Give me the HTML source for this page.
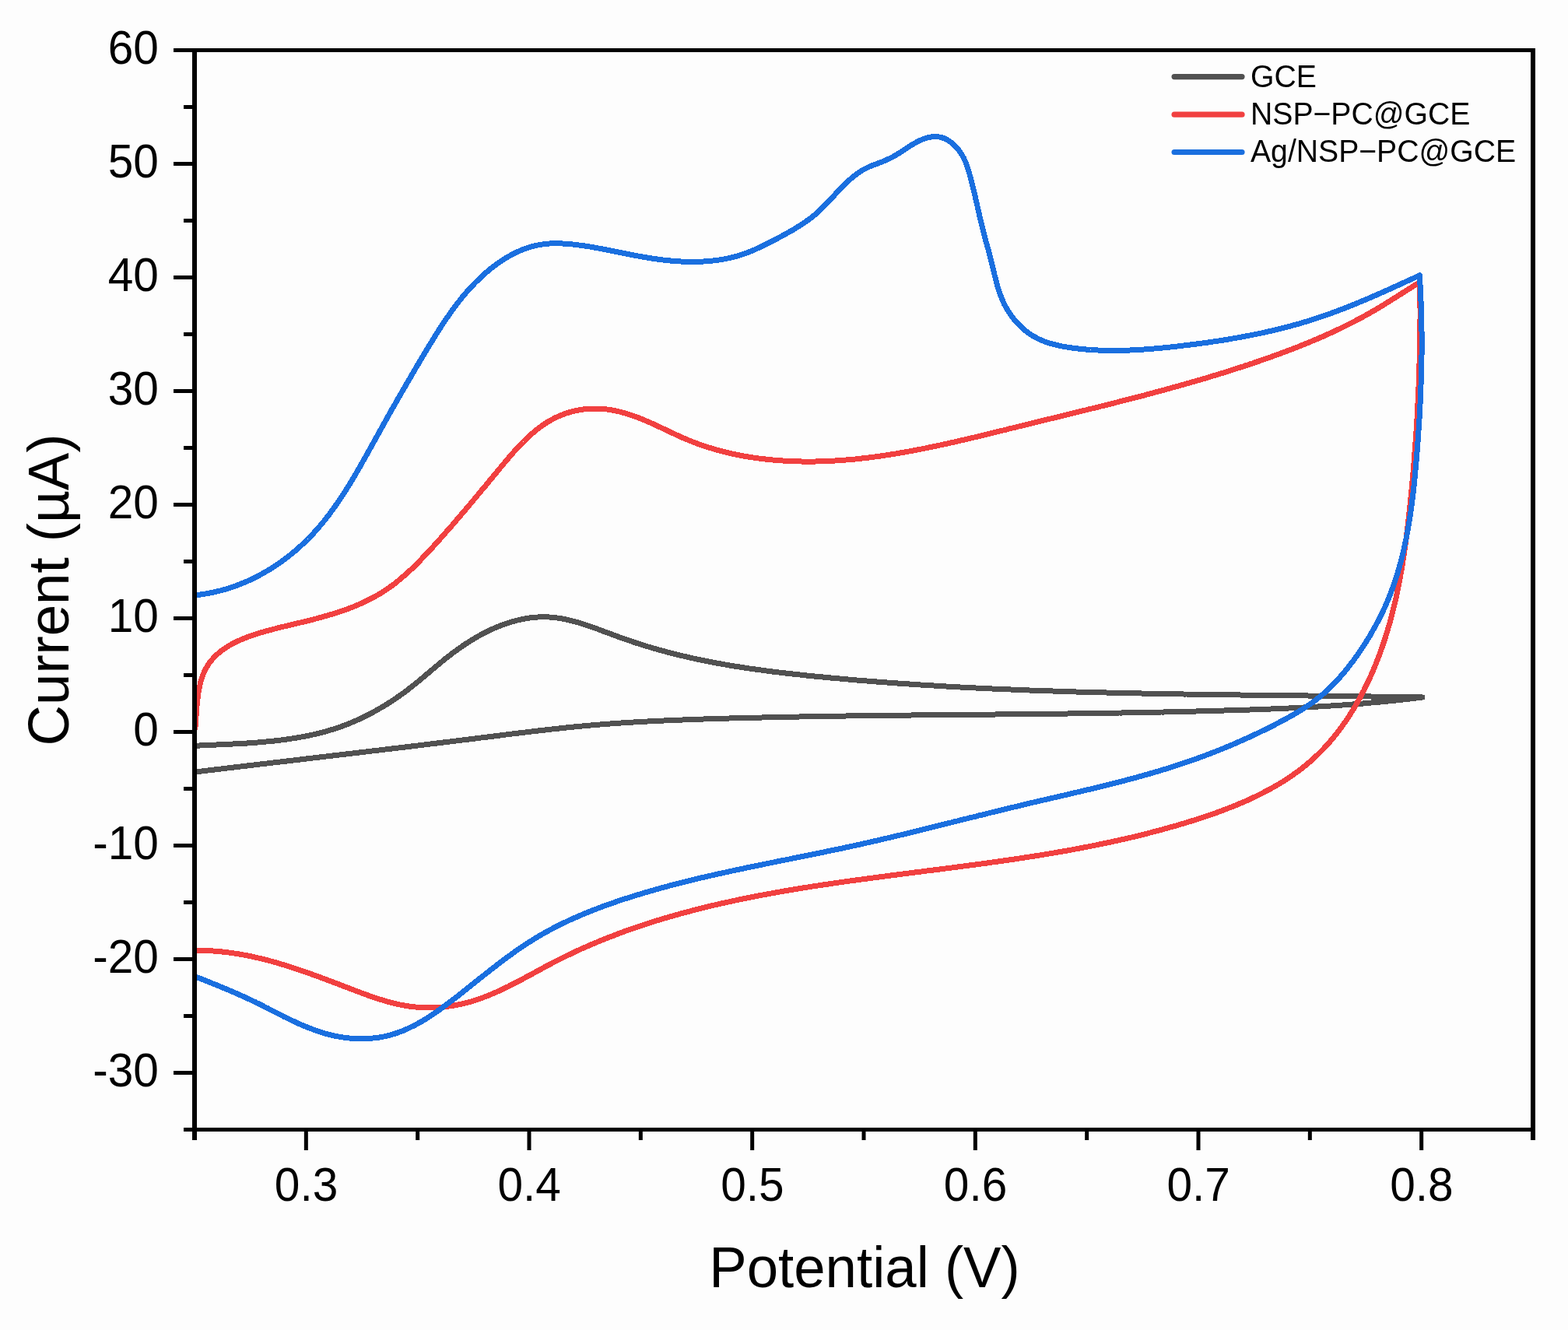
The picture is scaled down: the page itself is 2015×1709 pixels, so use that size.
<!DOCTYPE html>
<html lang="en"><head><meta charset="utf-8"><title>CV curves</title>
<style>html,body{margin:0;padding:0;background:#fdfdfd;}body{width:2015px;height:1709px;overflow:hidden;}svg{display:block;}text{font-family:"Liberation Sans",sans-serif;}</style>
</head><body>
<svg width="2015" height="1709" viewBox="0 0 2015 1709">
<rect width="2015" height="1709" fill="#fdfdfd"/>
<defs><clipPath id="plot"><rect x="250.0" y="64.5" width="1720.0" height="1387.0"/></clipPath></defs>
<g clip-path="url(#plot)">
<path d="M250.7 958.3L253.6 958.2L256.5 958.0L259.4 957.9L262.3 957.7L265.2 957.6L268.2 957.5L271.1 957.3L274.1 957.2L277.0 957.1L280.0 956.9L283.0 956.8L285.9 956.7L288.9 956.5L291.9 956.4L294.9 956.2L297.9 956.1L301.0 955.9L304.0 955.8L307.0 955.6L310.0 955.4L313.0 955.2L316.1 955.1L319.1 954.9L322.1 954.6L325.2 954.4L328.2 954.2L331.3 954.0L334.3 953.7L337.3 953.5L340.4 953.2L343.4 952.9L346.5 952.6L349.5 952.3L352.5 952.0L355.6 951.6L358.6 951.3L361.6 950.9L364.7 950.5L367.7 950.1L370.7 949.7L373.7 949.2L376.7 948.8L379.7 948.3L382.7 947.8L385.7 947.3L388.7 946.7L391.7 946.2L394.6 945.6L397.6 945.0L400.5 944.3L403.5 943.7L406.4 943.0L409.4 942.3L412.3 941.5L415.2 940.8L418.1 940.0L421.0 939.2L423.8 938.3L426.7 937.5L429.5 936.6L432.4 935.7L435.2 934.7L438.0 933.7L440.8 932.7L443.6 931.6L446.4 930.6L449.1 929.5L451.9 928.3L454.6 927.2L457.4 926.0L460.1 924.8L462.8 923.5L465.5 922.3L468.1 921.0L470.8 919.7L473.4 918.3L476.1 917.0L478.7 915.6L481.3 914.1L483.9 912.7L486.5 911.2L489.1 909.7L491.7 908.2L494.2 906.7L496.8 905.1L499.3 903.5L501.8 901.9L504.3 900.3L506.8 898.6L509.3 896.9L511.7 895.2L514.2 893.5L516.6 891.7L519.1 890.0L521.5 888.2L523.9 886.4L526.3 884.5L528.7 882.7L531.0 880.8L533.4 878.9L535.8 877.0L538.1 875.1L540.4 873.2L542.8 871.2L545.1 869.3L547.4 867.3L549.7 865.3L552.1 863.4L554.4 861.4L556.7 859.4L559.0 857.5L561.4 855.5L563.7 853.6L566.1 851.6L568.4 849.7L570.8 847.7L573.2 845.8L575.6 843.9L578.0 842.1L580.4 840.2L582.8 838.4L585.3 836.6L587.7 834.8L590.2 833.0L592.7 831.3L595.2 829.5L597.7 827.9L600.3 826.2L602.8 824.6L605.4 823.0L608.0 821.4L610.6 819.8L613.2 818.3L615.8 816.9L618.4 815.4L621.1 814.0L623.7 812.6L626.4 811.3L629.0 810.0L631.7 808.8L634.4 807.5L637.1 806.4L639.8 805.2L642.6 804.2L645.3 803.1L648.0 802.1L650.8 801.2L653.5 800.2L656.3 799.4L659.1 798.6L661.9 797.8L664.6 797.1L667.4 796.4L670.2 795.8L673.0 795.3L675.9 794.8L678.7 794.3L681.5 793.9L684.3 793.6L687.2 793.3L690.0 793.1L692.9 792.9L695.7 792.9L698.6 792.8L701.4 792.8L704.3 792.9L707.1 793.1L710.0 793.3L712.9 793.6L715.7 794.0L718.6 794.4L721.5 794.8L724.4 795.4L727.2 795.9L730.1 796.6L733.0 797.3L735.9 798.0L738.8 798.8L741.7 799.6L744.5 800.4L747.4 801.3L750.3 802.2L753.2 803.2L756.1 804.1L759.0 805.1L761.9 806.2L764.8 807.2L767.7 808.2L770.6 809.3L773.5 810.4L776.4 811.5L779.3 812.6L782.3 813.7L785.2 814.7L788.1 815.8L791.0 816.9L793.9 818.0L796.8 819.0L799.7 820.1L802.7 821.1L805.6 822.1L808.5 823.1L811.4 824.1L814.3 825.1L817.3 826.1L820.2 827.0L823.1 827.9L826.0 828.9L828.9 829.8L831.9 830.7L834.8 831.5L837.7 832.4L840.7 833.3L843.6 834.1L846.5 834.9L849.4 835.7L852.4 836.5L855.3 837.3L858.2 838.1L861.2 838.9L864.1 839.6L867.0 840.4L870.0 841.1L872.9 841.8L875.9 842.5L878.8 843.2L881.7 843.9L884.7 844.6L887.6 845.2L890.6 845.9L893.5 846.5L896.4 847.2L899.4 847.8L902.3 848.4L905.3 849.0L908.2 849.6L911.2 850.2L914.1 850.7L917.1 851.3L920.0 851.9L923.0 852.4L925.9 852.9L928.9 853.5L931.8 854.0L934.8 854.5L937.7 855.0L940.7 855.5L943.6 856.0L946.6 856.5L949.6 856.9L952.5 857.4L955.5 857.9L958.4 858.3L961.4 858.7L964.3 859.2L967.3 859.6L970.3 860.0L973.2 860.4L976.2 860.8L979.2 861.2L982.1 861.6L985.1 862.0L988.0 862.4L991.0 862.8L994.0 863.2L996.9 863.5L999.9 863.9L1002.9 864.2L1005.8 864.6L1008.8 864.9L1011.8 865.3L1014.7 865.6L1017.7 865.9L1020.7 866.3L1023.7 866.6L1026.6 866.9L1029.6 867.2L1032.6 867.5L1035.5 867.9L1038.5 868.2L1041.5 868.5L1044.5 868.8L1047.4 869.1L1050.4 869.4L1053.4 869.6L1056.4 869.9L1059.3 870.2L1062.3 870.5L1065.3 870.8L1068.3 871.1L1071.3 871.3L1074.2 871.6L1077.2 871.9L1080.2 872.1L1083.2 872.4L1086.2 872.7L1089.1 872.9L1092.1 873.2L1095.1 873.4L1098.1 873.7L1101.1 874.0L1104.1 874.2L1107.0 874.4L1110.0 874.7L1113.0 874.9L1116.0 875.2L1119.0 875.4L1122.0 875.7L1124.9 875.9L1127.9 876.1L1130.9 876.3L1133.9 876.6L1136.9 876.8L1139.9 877.0L1142.9 877.2L1145.9 877.5L1148.8 877.7L1151.8 877.9L1154.8 878.1L1157.8 878.3L1160.8 878.5L1163.8 878.7L1166.8 878.9L1169.8 879.1L1172.8 879.3L1175.8 879.5L1178.8 879.7L1181.7 879.9L1184.7 880.1L1187.7 880.3L1190.7 880.5L1193.7 880.7L1196.7 880.8L1199.7 881.0L1202.7 881.2L1205.7 881.4L1208.7 881.6L1211.7 881.7L1214.7 881.9L1217.7 882.1L1220.7 882.2L1223.7 882.4L1226.7 882.6L1229.7 882.7L1232.7 882.9L1235.7 883.1L1238.7 883.2L1241.7 883.4L1244.7 883.5L1247.7 883.7L1250.7 883.8L1253.7 884.0L1256.7 884.1L1259.7 884.3L1262.7 884.4L1265.7 884.6L1268.7 884.7L1271.7 884.8L1274.7 885.0L1277.7 885.1L1280.7 885.2L1283.7 885.4L1286.7 885.5L1289.7 885.6L1292.7 885.8L1295.7 885.9L1298.7 886.0L1301.7 886.1L1304.7 886.3L1307.7 886.4L1310.7 886.5L1313.7 886.6L1316.7 886.7L1319.7 886.9L1322.7 887.0L1325.7 887.1L1328.7 887.2L1331.7 887.3L1334.7 887.4L1337.8 887.5L1340.8 887.6L1343.8 887.7L1346.8 887.8L1349.8 887.9L1352.8 888.0L1355.8 888.1L1358.8 888.2L1361.8 888.3L1364.8 888.4L1367.8 888.5L1370.8 888.6L1373.8 888.7L1376.8 888.8L1379.9 888.9L1382.9 889.0L1385.9 889.1L1388.9 889.1L1391.9 889.2L1394.9 889.3L1397.9 889.4L1400.9 889.5L1403.9 889.6L1406.9 889.6L1409.9 889.7L1413.0 889.8L1416.0 889.9L1419.0 889.9L1422.0 890.0L1425.0 890.1L1428.0 890.2L1431.0 890.2L1434.0 890.3L1437.0 890.4L1440.0 890.4L1443.1 890.5L1446.1 890.6L1449.1 890.6L1452.1 890.7L1455.1 890.8L1458.1 890.8L1461.1 890.9L1464.1 890.9L1467.1 891.0L1470.2 891.1L1473.2 891.1L1476.2 891.2L1479.2 891.2L1482.2 891.3L1485.2 891.4L1488.2 891.4L1491.2 891.5L1494.2 891.5L1497.3 891.6L1500.3 891.6L1503.3 891.7L1506.3 891.7L1509.3 891.8L1512.3 891.8L1515.3 891.9L1518.3 891.9L1521.4 892.0L1524.4 892.0L1527.4 892.1L1530.4 892.1L1533.4 892.2L1536.4 892.2L1539.4 892.2L1542.4 892.3L1545.4 892.3L1548.5 892.4L1551.5 892.4L1554.5 892.5L1557.5 892.5L1560.5 892.5L1563.5 892.6L1566.5 892.6L1569.5 892.7L1572.5 892.7L1575.6 892.7L1578.6 892.8L1581.6 892.8L1584.6 892.9L1587.6 892.9L1590.6 892.9L1593.6 893.0L1596.6 893.0L1599.6 893.0L1602.7 893.1L1605.7 893.1L1608.7 893.2L1611.7 893.2L1614.7 893.2L1617.7 893.3L1620.7 893.3L1623.7 893.3L1626.7 893.4L1629.7 893.4L1632.8 893.4L1635.8 893.5L1638.8 893.5L1641.8 893.5L1644.8 893.6L1647.8 893.6L1650.8 893.6L1653.8 893.7L1656.8 893.7L1659.8 893.7L1662.8 893.8L1665.8 893.8L1668.9 893.8L1671.9 893.9L1674.9 893.9L1677.9 893.9L1680.9 894.0L1683.9 894.0L1686.9 894.1L1689.9 894.1L1692.9 894.1L1695.9 894.2L1698.9 894.2L1701.9 894.2L1704.9 894.3L1707.9 894.3L1711.0 894.3L1714.0 894.4L1717.0 894.4L1720.0 894.4L1723.0 894.5L1726.0 894.5L1729.0 894.6L1732.0 894.6L1735.0 894.6L1738.0 894.7L1741.0 894.7L1744.0 894.7L1747.0 894.8L1750.0 894.8L1753.0 894.9L1756.0 894.9L1759.0 894.9L1762.0 895.0L1765.0 895.0L1768.0 895.1L1771.0 895.1L1774.0 895.1L1777.0 895.2L1780.0 895.2L1783.0 895.3L1786.0 895.3L1789.0 895.4L1792.0 895.4L1795.0 895.5L1798.0 895.5L1801.0 895.5L1804.0 895.6L1807.0 895.6L1810.0 895.7L1813.0 895.7L1816.0 895.8L1819.0 895.8L1822.0 895.9L1825.0 895.9L1828.0 896.0L1825.0 896.4L1822.1 896.8L1819.1 897.1L1816.1 897.5L1813.1 897.8L1810.1 898.2L1807.2 898.5L1804.2 898.9L1801.2 899.2L1798.2 899.5L1795.2 899.8L1792.3 900.2L1789.3 900.5L1786.3 900.8L1783.3 901.1L1780.3 901.4L1777.3 901.7L1774.4 902.0L1771.4 902.2L1768.4 902.5L1765.4 902.8L1762.4 903.0L1759.4 903.3L1756.4 903.6L1753.5 903.8L1750.5 904.1L1747.5 904.3L1744.5 904.6L1741.5 904.8L1738.5 905.0L1735.5 905.3L1732.5 905.5L1729.5 905.7L1726.5 905.9L1723.6 906.1L1720.6 906.3L1717.6 906.5L1714.6 906.7L1711.6 906.9L1708.6 907.1L1705.6 907.3L1702.6 907.5L1699.6 907.7L1696.6 907.9L1693.6 908.0L1690.6 908.2L1687.6 908.4L1684.6 908.6L1681.6 908.7L1678.6 908.9L1675.6 909.0L1672.6 909.2L1669.6 909.3L1666.6 909.5L1663.6 909.6L1660.6 909.8L1657.6 909.9L1654.6 910.1L1651.6 910.2L1648.6 910.3L1645.6 910.5L1642.6 910.6L1639.6 910.7L1636.6 910.8L1633.6 911.0L1630.6 911.1L1627.6 911.2L1624.6 911.3L1621.6 911.4L1618.6 911.5L1615.6 911.6L1612.6 911.7L1609.6 911.9L1606.6 912.0L1603.6 912.1L1600.6 912.2L1597.6 912.3L1594.6 912.4L1591.6 912.5L1588.6 912.6L1585.6 912.6L1582.6 912.7L1579.6 912.8L1576.6 912.9L1573.6 913.0L1570.6 913.1L1567.6 913.2L1564.6 913.3L1561.6 913.4L1558.6 913.4L1555.6 913.5L1552.6 913.6L1549.6 913.7L1546.6 913.8L1543.6 913.9L1540.6 913.9L1537.6 914.0L1534.6 914.1L1531.6 914.2L1528.6 914.2L1525.6 914.3L1522.6 914.4L1519.6 914.4L1516.5 914.5L1513.5 914.6L1510.5 914.7L1507.5 914.7L1504.5 914.8L1501.5 914.9L1498.5 914.9L1495.5 915.0L1492.5 915.0L1489.5 915.1L1486.5 915.2L1483.5 915.2L1480.5 915.3L1477.5 915.3L1474.5 915.4L1471.5 915.5L1468.5 915.5L1465.5 915.6L1462.5 915.6L1459.5 915.7L1456.5 915.7L1453.5 915.8L1450.5 915.8L1447.5 915.9L1444.5 915.9L1441.5 916.0L1438.5 916.0L1435.5 916.1L1432.5 916.1L1429.5 916.2L1426.5 916.2L1423.5 916.3L1420.5 916.3L1417.5 916.4L1414.5 916.4L1411.5 916.5L1408.5 916.5L1405.5 916.5L1402.4 916.6L1399.4 916.6L1396.4 916.7L1393.4 916.7L1390.4 916.7L1387.4 916.8L1384.4 916.8L1381.4 916.9L1378.4 916.9L1375.4 916.9L1372.4 917.0L1369.4 917.0L1366.4 917.0L1363.4 917.1L1360.4 917.1L1357.4 917.2L1354.4 917.2L1351.4 917.2L1348.4 917.3L1345.4 917.3L1342.4 917.3L1339.4 917.4L1336.4 917.4L1333.4 917.4L1330.4 917.4L1327.4 917.5L1324.4 917.5L1321.4 917.5L1318.4 917.6L1315.4 917.6L1312.4 917.6L1309.4 917.7L1306.4 917.7L1303.4 917.7L1300.4 917.8L1297.4 917.8L1294.3 917.8L1291.3 917.8L1288.3 917.9L1285.3 917.9L1282.3 917.9L1279.3 918.0L1276.3 918.0L1273.3 918.0L1270.3 918.0L1267.3 918.1L1264.3 918.1L1261.3 918.1L1258.3 918.1L1255.3 918.2L1252.3 918.2L1249.3 918.2L1246.3 918.3L1243.3 918.3L1240.3 918.3L1237.3 918.3L1234.3 918.4L1231.3 918.4L1228.3 918.4L1225.3 918.5L1222.3 918.5L1219.3 918.5L1216.3 918.5L1213.3 918.6L1210.3 918.6L1207.3 918.6L1204.3 918.7L1201.3 918.7L1198.3 918.7L1195.3 918.7L1192.3 918.8L1189.3 918.8L1186.3 918.8L1183.3 918.9L1180.3 918.9L1177.3 918.9L1174.2 918.9L1171.2 919.0L1168.2 919.0L1165.2 919.0L1162.2 919.1L1159.2 919.1L1156.2 919.1L1153.2 919.2L1150.2 919.2L1147.2 919.2L1144.2 919.3L1141.2 919.3L1138.2 919.3L1135.2 919.4L1132.2 919.4L1129.2 919.4L1126.2 919.5L1123.2 919.5L1120.2 919.6L1117.2 919.6L1114.2 919.6L1111.2 919.7L1108.2 919.7L1105.2 919.7L1102.2 919.8L1099.2 919.8L1096.2 919.9L1093.2 919.9L1090.2 919.9L1087.2 920.0L1084.2 920.0L1081.2 920.1L1078.2 920.1L1075.2 920.2L1072.2 920.2L1069.2 920.3L1066.2 920.3L1063.2 920.3L1060.2 920.4L1057.2 920.4L1054.2 920.5L1051.2 920.5L1048.2 920.6L1045.2 920.6L1042.2 920.7L1039.2 920.7L1036.2 920.8L1033.2 920.9L1030.2 920.9L1027.2 921.0L1024.2 921.0L1021.2 921.1L1018.2 921.1L1015.2 921.2L1012.2 921.2L1009.2 921.3L1006.2 921.4L1003.2 921.4L1000.2 921.5L997.2 921.6L994.2 921.6L991.2 921.7L988.2 921.8L985.2 921.8L982.2 921.9L979.2 922.0L976.1 922.0L973.1 922.1L970.1 922.2L967.1 922.2L964.1 922.3L961.1 922.4L958.1 922.5L955.1 922.5L952.1 922.6L949.1 922.7L946.1 922.8L943.1 922.9L940.1 922.9L937.1 923.0L934.1 923.1L931.1 923.2L928.1 923.3L925.1 923.4L922.1 923.5L919.1 923.5L916.1 923.6L913.1 923.7L910.1 923.8L907.1 923.9L904.1 924.0L901.1 924.1L898.1 924.2L895.1 924.3L892.1 924.4L889.1 924.5L886.1 924.6L883.1 924.7L880.2 924.8L877.2 925.0L874.2 925.1L871.2 925.2L868.2 925.3L865.2 925.4L862.2 925.6L859.2 925.7L856.2 925.8L853.2 926.0L850.2 926.1L847.2 926.2L844.2 926.4L841.2 926.5L838.2 926.7L835.2 926.8L832.2 927.0L829.2 927.1L826.2 927.3L823.2 927.5L820.2 927.6L817.2 927.8L814.2 928.0L811.2 928.2L808.2 928.4L805.2 928.5L802.3 928.7L799.3 928.9L796.3 929.1L793.3 929.3L790.3 929.5L787.3 929.8L784.3 930.0L781.3 930.2L778.3 930.4L775.3 930.7L772.3 930.9L769.4 931.1L766.4 931.4L763.4 931.6L760.4 931.9L757.4 932.1L754.4 932.4L751.4 932.7L748.5 933.0L745.5 933.2L742.5 933.5L739.5 933.8L736.5 934.1L733.5 934.4L730.5 934.7L727.6 935.0L724.6 935.3L721.6 935.6L718.6 936.0L715.6 936.3L712.7 936.6L709.7 936.9L706.7 937.3L703.7 937.6L700.7 938.0L697.8 938.3L694.8 938.6L691.8 939.0L688.8 939.3L685.8 939.7L682.9 940.0L679.9 940.4L676.9 940.8L673.9 941.1L670.9 941.5L668.0 941.8L665.0 942.2L662.0 942.6L659.0 942.9L656.0 943.3L653.1 943.7L650.1 944.0L647.1 944.4L644.1 944.8L641.2 945.2L638.2 945.5L635.2 945.9L632.2 946.3L629.2 946.7L626.3 947.0L623.3 947.4L620.3 947.8L617.3 948.1L614.4 948.5L611.4 948.9L608.4 949.3L605.4 949.6L602.4 950.0L599.5 950.4L596.5 950.7L593.5 951.1L590.5 951.5L587.5 951.8L584.6 952.2L581.6 952.6L578.6 952.9L575.6 953.3L572.6 953.7L569.7 954.0L566.7 954.4L563.7 954.7L560.7 955.1L557.7 955.5L554.8 955.8L551.8 956.2L548.8 956.6L545.8 956.9L542.8 957.3L539.9 957.6L536.9 958.0L533.9 958.4L530.9 958.7L527.9 959.1L525.0 959.4L522.0 959.8L519.0 960.2L516.0 960.5L513.0 960.9L510.1 961.2L507.1 961.6L504.1 961.9L501.1 962.3L498.1 962.6L495.2 963.0L492.2 963.4L489.2 963.7L486.2 964.1L483.2 964.4L480.2 964.8L477.3 965.1L474.3 965.5L471.3 965.8L468.3 966.2L465.3 966.5L462.4 966.9L459.4 967.3L456.4 967.6L453.4 968.0L450.4 968.3L447.5 968.7L444.5 969.0L441.5 969.4L438.5 969.7L435.5 970.1L432.5 970.4L429.6 970.8L426.6 971.1L423.6 971.5L420.6 971.8L417.6 972.2L414.7 972.5L411.7 972.9L408.7 973.2L405.7 973.6L402.7 973.9L399.7 974.3L396.8 974.6L393.8 975.0L390.8 975.4L387.8 975.7L384.8 976.1L381.9 976.4L378.9 976.8L375.9 977.1L372.9 977.5L369.9 977.8L366.9 978.2L364.0 978.5L361.0 978.9L358.0 979.2L355.0 979.6L352.0 979.9L349.1 980.3L346.1 980.6L343.1 981.0L340.1 981.3L337.1 981.7L334.2 982.0L331.2 982.4L328.2 982.7L325.2 983.1L322.2 983.4L319.2 983.8L316.3 984.2L313.3 984.5L310.3 984.9L307.3 985.2L304.3 985.6L301.4 985.9L298.4 986.3L295.4 986.6L292.4 987.0L289.4 987.3L286.5 987.7L283.5 988.1L280.5 988.4L277.5 988.8L274.5 989.1L271.6 989.5L268.6 989.8L265.6 990.2L262.6 990.6L259.6 990.9L256.7 991.3L253.7 991.6L250.7 992.0" fill="none" stroke="#515151" stroke-width="7.0" stroke-linejoin="round" stroke-linecap="butt" shape-rendering="crispEdges"/>
<path d="M250.7 938.0L250.9 935.3L251.2 932.5L251.4 929.6L251.6 926.6L251.8 923.6L252.0 920.6L252.2 917.5L252.4 914.4L252.6 911.2L252.9 908.1L253.2 904.9L253.5 901.7L253.9 898.5L254.3 895.3L254.7 892.1L255.2 889.0L255.8 885.8L256.4 882.7L257.1 879.7L257.8 876.6L258.7 873.7L259.6 870.7L260.6 867.9L261.7 865.1L262.9 862.4L264.2 859.8L265.6 857.2L267.1 854.8L268.7 852.4L270.4 850.1L272.2 847.9L274.1 845.8L276.0 843.7L278.1 841.7L280.2 839.8L282.4 838.0L284.6 836.2L287.0 834.5L289.4 832.8L291.8 831.2L294.3 829.7L296.9 828.3L299.5 826.8L302.2 825.5L304.9 824.2L307.6 822.9L310.4 821.7L313.2 820.5L316.0 819.4L318.8 818.3L321.7 817.3L324.6 816.3L327.5 815.3L330.4 814.4L333.3 813.4L336.3 812.6L339.2 811.7L342.1 810.9L345.0 810.1L348.0 809.3L350.9 808.5L353.8 807.8L356.7 807.0L359.7 806.3L362.6 805.6L365.5 804.9L368.5 804.2L371.4 803.5L374.3 802.8L377.2 802.1L380.2 801.4L383.1 800.7L386.0 800.0L389.0 799.3L391.9 798.6L394.8 797.9L397.7 797.1L400.7 796.4L403.6 795.6L406.5 794.9L409.4 794.1L412.3 793.3L415.2 792.5L418.1 791.7L421.0 790.9L423.9 790.0L426.8 789.1L429.6 788.3L432.5 787.3L435.3 786.4L438.2 785.5L441.0 784.5L443.8 783.5L446.6 782.5L449.4 781.4L452.2 780.4L455.0 779.3L457.7 778.1L460.4 777.0L463.2 775.8L465.9 774.6L468.6 773.3L471.2 772.0L473.9 770.7L476.5 769.4L479.2 768.0L481.8 766.6L484.4 765.1L486.9 763.6L489.5 762.1L492.0 760.5L494.5 758.9L497.0 757.3L499.4 755.6L501.9 753.8L504.3 752.1L506.7 750.3L509.0 748.4L511.4 746.5L513.7 744.6L516.0 742.7L518.3 740.7L520.6 738.7L522.9 736.7L525.1 734.7L527.4 732.6L529.6 730.5L531.8 728.4L533.9 726.2L536.1 724.1L538.3 721.9L540.4 719.7L542.5 717.5L544.6 715.3L546.7 713.1L548.8 710.9L550.9 708.7L553.0 706.4L555.0 704.2L557.1 701.9L559.1 699.7L561.1 697.4L563.2 695.2L565.2 692.9L567.2 690.7L569.2 688.4L571.1 686.2L573.1 683.9L575.1 681.7L577.1 679.4L579.0 677.2L581.0 675.0L582.9 672.7L584.9 670.5L586.8 668.2L588.7 665.9L590.7 663.7L592.6 661.4L594.5 659.2L596.4 656.9L598.4 654.7L600.3 652.4L602.2 650.1L604.1 647.9L606.0 645.6L607.9 643.3L609.8 641.1L611.7 638.8L613.6 636.5L615.5 634.2L617.4 631.9L619.3 629.6L621.2 627.4L623.1 625.1L625.1 622.8L627.0 620.4L628.9 618.1L630.8 615.8L632.7 613.5L634.6 611.2L636.5 608.9L638.5 606.5L640.4 604.2L642.3 601.8L644.3 599.5L646.2 597.1L648.2 594.8L650.1 592.5L652.1 590.1L654.1 587.8L656.1 585.5L658.1 583.2L660.1 580.9L662.1 578.6L664.2 576.4L666.2 574.1L668.3 571.9L670.4 569.7L672.6 567.6L674.7 565.5L676.9 563.4L679.1 561.3L681.3 559.3L683.5 557.3L685.8 555.4L688.1 553.4L690.4 551.6L692.8 549.8L695.2 548.0L697.6 546.3L700.0 544.6L702.5 543.0L705.0 541.5L707.6 540.0L710.2 538.6L712.8 537.2L715.5 535.9L718.2 534.7L721.0 533.5L723.7 532.5L726.6 531.4L729.4 530.5L732.3 529.6L735.2 528.8L738.1 528.1L741.0 527.4L744.0 526.9L747.0 526.4L749.9 525.9L752.9 525.6L755.9 525.3L758.9 525.1L761.9 525.0L764.9 525.0L767.9 525.0L770.9 525.2L773.9 525.4L776.9 525.6L779.9 526.0L782.9 526.4L785.9 526.9L788.8 527.4L791.8 528.0L794.7 528.7L797.7 529.4L800.6 530.2L803.5 531.0L806.4 531.9L809.3 532.8L812.1 533.8L815.0 534.8L817.8 535.8L820.7 536.9L823.5 538.0L826.3 539.1L829.0 540.3L831.8 541.5L834.6 542.7L837.3 543.9L840.1 545.1L842.8 546.4L845.5 547.7L848.3 548.9L851.0 550.2L853.7 551.5L856.4 552.8L859.1 554.1L861.9 555.4L864.6 556.7L867.3 557.9L870.0 559.2L872.8 560.4L875.5 561.7L878.2 562.9L881.0 564.0L883.8 565.2L886.5 566.3L889.3 567.4L892.1 568.5L894.9 569.6L897.7 570.6L900.5 571.6L903.4 572.6L906.2 573.5L909.1 574.5L911.9 575.4L914.8 576.2L917.6 577.1L920.5 577.9L923.4 578.7L926.3 579.5L929.2 580.2L932.1 581.0L935.0 581.7L937.9 582.4L940.8 583.0L943.8 583.6L946.7 584.3L949.7 584.9L952.6 585.4L955.5 586.0L958.5 586.5L961.5 587.0L964.4 587.5L967.4 587.9L970.4 588.4L973.3 588.8L976.3 589.2L979.3 589.6L982.3 589.9L985.3 590.2L988.2 590.6L991.2 590.8L994.2 591.1L997.2 591.4L1000.2 591.6L1003.2 591.8L1006.2 592.0L1009.2 592.2L1012.2 592.4L1015.2 592.5L1018.2 592.6L1021.2 592.8L1024.2 592.8L1027.2 592.9L1030.2 593.0L1033.2 593.0L1036.2 593.0L1039.2 593.0L1042.2 593.0L1045.2 593.0L1048.1 593.0L1051.1 592.9L1054.1 592.8L1057.1 592.7L1060.1 592.6L1063.1 592.5L1066.1 592.4L1069.0 592.2L1072.0 592.1L1075.0 591.9L1078.0 591.7L1081.0 591.5L1083.9 591.3L1086.9 591.0L1089.9 590.8L1092.8 590.5L1095.8 590.2L1098.8 590.0L1101.8 589.7L1104.7 589.3L1107.7 589.0L1110.7 588.7L1113.6 588.3L1116.6 588.0L1119.6 587.6L1122.5 587.2L1125.5 586.8L1128.4 586.4L1131.4 586.0L1134.4 585.6L1137.3 585.1L1140.3 584.7L1143.2 584.2L1146.2 583.8L1149.1 583.3L1152.1 582.8L1155.0 582.3L1158.0 581.8L1161.0 581.3L1163.9 580.8L1166.9 580.2L1169.8 579.7L1172.7 579.1L1175.7 578.6L1178.6 578.0L1181.6 577.5L1184.5 576.9L1187.5 576.3L1190.4 575.7L1193.4 575.1L1196.3 574.5L1199.3 573.9L1202.2 573.3L1205.1 572.6L1208.1 572.0L1211.0 571.4L1214.0 570.7L1216.9 570.1L1219.8 569.4L1222.8 568.8L1225.7 568.1L1228.6 567.4L1231.6 566.8L1234.5 566.1L1237.5 565.4L1240.4 564.7L1243.3 564.0L1246.3 563.3L1249.2 562.7L1252.1 562.0L1255.1 561.3L1258.0 560.6L1260.9 559.8L1263.9 559.1L1266.8 558.4L1269.7 557.7L1272.7 557.0L1275.6 556.3L1278.5 555.6L1281.4 554.8L1284.4 554.1L1287.3 553.4L1290.2 552.7L1293.2 552.0L1296.1 551.2L1299.0 550.5L1301.9 549.8L1304.9 549.1L1307.8 548.3L1310.7 547.6L1313.7 546.9L1316.6 546.2L1319.5 545.5L1322.4 544.7L1325.4 544.0L1328.3 543.3L1331.2 542.6L1334.1 541.9L1337.1 541.2L1340.0 540.5L1342.9 539.7L1345.8 539.0L1348.8 538.3L1351.7 537.6L1354.6 536.9L1357.5 536.2L1360.5 535.5L1363.4 534.7L1366.3 534.0L1369.2 533.3L1372.2 532.6L1375.1 531.9L1378.0 531.2L1380.9 530.5L1383.8 529.7L1386.8 529.0L1389.7 528.3L1392.6 527.6L1395.5 526.9L1398.4 526.1L1401.3 525.4L1404.3 524.7L1407.2 524.0L1410.1 523.3L1413.0 522.5L1415.9 521.8L1418.8 521.1L1421.8 520.4L1424.7 519.6L1427.6 518.9L1430.5 518.2L1433.4 517.4L1436.3 516.7L1439.2 515.9L1442.1 515.2L1445.0 514.5L1447.9 513.7L1450.8 513.0L1453.8 512.2L1456.7 511.5L1459.6 510.7L1462.5 510.0L1465.4 509.2L1468.3 508.5L1471.2 507.7L1474.1 506.9L1477.0 506.2L1479.9 505.4L1482.8 504.6L1485.7 503.8L1488.6 503.1L1491.4 502.3L1494.3 501.5L1497.2 500.7L1500.1 499.9L1503.0 499.1L1505.9 498.3L1508.8 497.5L1511.7 496.7L1514.6 495.9L1517.5 495.1L1520.3 494.3L1523.2 493.5L1526.1 492.7L1529.0 491.8L1531.9 491.0L1534.7 490.2L1537.6 489.3L1540.5 488.5L1543.4 487.7L1546.2 486.8L1549.1 486.0L1552.0 485.1L1554.9 484.2L1557.7 483.4L1560.6 482.5L1563.5 481.6L1566.3 480.8L1569.2 479.9L1572.1 479.0L1574.9 478.1L1577.8 477.2L1580.6 476.3L1583.5 475.4L1586.4 474.5L1589.2 473.6L1592.1 472.6L1594.9 471.7L1597.8 470.8L1600.6 469.8L1603.5 468.9L1606.3 467.9L1609.2 467.0L1612.0 466.0L1614.8 465.1L1617.7 464.1L1620.5 463.1L1623.4 462.1L1626.2 461.1L1629.0 460.1L1631.9 459.1L1634.7 458.1L1637.5 457.1L1640.3 456.1L1643.2 455.1L1646.0 454.0L1648.8 453.0L1651.6 451.9L1654.4 450.9L1657.2 449.8L1660.1 448.7L1662.9 447.6L1665.7 446.6L1668.5 445.5L1671.2 444.4L1674.0 443.2L1676.8 442.1L1679.6 441.0L1682.4 439.8L1685.2 438.7L1687.9 437.5L1690.7 436.3L1693.5 435.2L1696.2 434.0L1699.0 432.8L1701.7 431.6L1704.5 430.3L1707.2 429.1L1709.9 427.9L1712.6 426.6L1715.4 425.3L1718.1 424.1L1720.8 422.8L1723.5 421.5L1726.2 420.2L1728.9 418.8L1731.6 417.5L1734.3 416.2L1736.9 414.8L1739.6 413.4L1742.3 412.0L1744.9 410.6L1747.6 409.2L1750.2 407.8L1752.8 406.4L1755.5 404.9L1758.1 403.5L1760.7 402.0L1763.3 400.5L1765.9 399.0L1768.5 397.5L1771.1 395.9L1773.6 394.4L1776.2 392.8L1778.8 391.3L1781.3 389.7L1783.9 388.1L1786.4 386.5L1789.0 384.9L1791.5 383.3L1794.1 381.7L1796.6 380.1L1799.2 378.5L1801.7 376.9L1804.2 375.3L1806.8 373.7L1809.3 372.1L1811.9 370.5L1814.4 368.9L1816.9 367.3L1819.5 365.7L1822.0 364.2L1824.6 362.6L1824.7 365.6L1824.7 368.5L1824.7 371.5L1824.8 374.5L1824.8 377.5L1824.9 380.5L1824.9 383.4L1824.9 386.4L1824.9 389.4L1824.9 392.4L1825.0 395.4L1825.0 398.4L1825.0 401.3L1825.0 404.3L1825.0 407.3L1825.0 410.3L1824.9 413.3L1824.9 416.3L1824.9 419.3L1824.9 422.3L1824.9 425.3L1824.8 428.3L1824.8 431.2L1824.7 434.2L1824.7 437.2L1824.6 440.2L1824.6 443.2L1824.5 446.2L1824.5 449.2L1824.4 452.2L1824.3 455.2L1824.3 458.2L1824.2 461.2L1824.1 464.2L1824.0 467.2L1823.9 470.2L1823.9 473.2L1823.8 476.2L1823.7 479.2L1823.6 482.2L1823.5 485.2L1823.3 488.2L1823.2 491.2L1823.1 494.2L1823.0 497.2L1822.9 500.2L1822.7 503.2L1822.6 506.2L1822.5 509.2L1822.3 512.2L1822.2 515.3L1822.0 518.3L1821.9 521.3L1821.7 524.3L1821.6 527.3L1821.4 530.3L1821.2 533.3L1821.1 536.3L1820.9 539.3L1820.7 542.3L1820.5 545.3L1820.3 548.3L1820.1 551.3L1820.0 554.3L1819.8 557.3L1819.6 560.3L1819.3 563.3L1819.1 566.3L1818.9 569.3L1818.7 572.3L1818.5 575.3L1818.3 578.3L1818.0 581.3L1817.8 584.3L1817.6 587.3L1817.3 590.3L1817.1 593.3L1816.9 596.3L1816.6 599.3L1816.4 602.3L1816.1 605.3L1815.9 608.3L1815.6 611.3L1815.3 614.3L1815.1 617.3L1814.8 620.3L1814.5 623.2L1814.2 626.2L1814.0 629.2L1813.7 632.2L1813.4 635.2L1813.1 638.2L1812.8 641.2L1812.5 644.2L1812.2 647.2L1811.9 650.1L1811.6 653.1L1811.3 656.1L1810.9 659.1L1810.6 662.1L1810.3 665.0L1809.9 668.0L1809.6 671.0L1809.3 674.0L1808.9 677.0L1808.6 679.9L1808.2 682.9L1807.8 685.9L1807.4 688.8L1807.1 691.8L1806.7 694.8L1806.3 697.7L1805.9 700.7L1805.5 703.7L1805.0 706.6L1804.6 709.6L1804.2 712.5L1803.7 715.5L1803.3 718.4L1802.8 721.4L1802.3 724.3L1801.9 727.3L1801.4 730.2L1800.9 733.2L1800.3 736.1L1799.8 739.0L1799.3 742.0L1798.7 744.9L1798.2 747.8L1797.6 750.7L1797.0 753.7L1796.4 756.6L1795.8 759.5L1795.2 762.4L1794.6 765.3L1794.0 768.3L1793.3 771.2L1792.6 774.1L1791.9 777.0L1791.3 779.9L1790.5 782.8L1789.8 785.7L1789.1 788.5L1788.3 791.4L1787.6 794.3L1786.8 797.2L1786.0 800.1L1785.2 802.9L1784.3 805.8L1783.5 808.7L1782.6 811.5L1781.8 814.4L1780.9 817.3L1780.0 820.1L1779.0 823.0L1778.1 825.8L1777.1 828.7L1776.2 831.5L1775.2 834.3L1774.1 837.2L1773.1 840.0L1772.1 842.8L1771.0 845.6L1769.9 848.4L1768.8 851.2L1767.7 854.1L1766.5 856.9L1765.3 859.7L1764.2 862.4L1762.9 865.2L1761.7 868.0L1760.5 870.8L1759.2 873.5L1757.9 876.3L1756.6 879.0L1755.3 881.8L1753.9 884.5L1752.6 887.2L1751.2 889.9L1749.8 892.6L1748.3 895.3L1746.9 898.0L1745.4 900.6L1743.9 903.3L1742.4 905.9L1740.9 908.5L1739.3 911.1L1737.7 913.7L1736.1 916.2L1734.5 918.8L1732.9 921.3L1731.2 923.9L1729.5 926.4L1727.8 928.8L1726.1 931.3L1724.3 933.7L1722.6 936.2L1720.8 938.6L1718.9 941.0L1717.1 943.3L1715.2 945.7L1713.3 948.0L1711.4 950.3L1709.5 952.5L1707.6 954.8L1705.6 957.0L1703.6 959.2L1701.6 961.4L1699.5 963.5L1697.4 965.6L1695.3 967.7L1693.2 969.8L1691.1 971.8L1688.9 973.8L1686.7 975.8L1684.5 977.8L1682.3 979.7L1680.1 981.6L1677.8 983.5L1675.5 985.3L1673.2 987.2L1670.8 989.0L1668.5 990.7L1666.1 992.5L1663.7 994.2L1661.3 995.9L1658.9 997.6L1656.4 999.2L1654.0 1000.9L1651.5 1002.5L1649.0 1004.1L1646.5 1005.6L1643.9 1007.2L1641.4 1008.7L1638.8 1010.2L1636.2 1011.6L1633.6 1013.1L1631.0 1014.5L1628.4 1015.9L1625.7 1017.3L1623.1 1018.7L1620.4 1020.1L1617.8 1021.4L1615.1 1022.7L1612.4 1024.0L1609.6 1025.3L1606.9 1026.6L1604.2 1027.8L1601.4 1029.1L1598.7 1030.3L1595.9 1031.5L1593.1 1032.6L1590.3 1033.8L1587.6 1035.0L1584.8 1036.1L1581.9 1037.2L1579.1 1038.3L1576.3 1039.4L1573.5 1040.5L1570.6 1041.5L1567.8 1042.6L1564.9 1043.6L1562.1 1044.7L1559.2 1045.7L1556.3 1046.7L1553.5 1047.7L1550.6 1048.6L1547.7 1049.6L1544.8 1050.5L1541.9 1051.5L1539.1 1052.4L1536.2 1053.3L1533.3 1054.3L1530.4 1055.2L1527.5 1056.1L1524.6 1056.9L1521.7 1057.8L1518.8 1058.7L1515.9 1059.6L1513.0 1060.4L1510.1 1061.3L1507.2 1062.1L1504.3 1062.9L1501.4 1063.7L1498.5 1064.5L1495.6 1065.3L1492.7 1066.1L1489.8 1066.9L1486.9 1067.7L1484.0 1068.5L1481.0 1069.2L1478.1 1070.0L1475.2 1070.7L1472.3 1071.5L1469.4 1072.2L1466.5 1072.9L1463.6 1073.7L1460.6 1074.4L1457.7 1075.1L1454.8 1075.8L1451.9 1076.5L1449.0 1077.1L1446.0 1077.8L1443.1 1078.5L1440.2 1079.1L1437.3 1079.8L1434.4 1080.5L1431.4 1081.1L1428.5 1081.7L1425.6 1082.4L1422.6 1083.0L1419.7 1083.6L1416.8 1084.2L1413.9 1084.8L1410.9 1085.4L1408.0 1086.0L1405.1 1086.6L1402.1 1087.2L1399.2 1087.8L1396.3 1088.3L1393.3 1088.9L1390.4 1089.5L1387.4 1090.0L1384.5 1090.6L1381.6 1091.1L1378.6 1091.7L1375.7 1092.2L1372.7 1092.7L1369.8 1093.3L1366.9 1093.8L1363.9 1094.3L1361.0 1094.8L1358.0 1095.3L1355.1 1095.8L1352.1 1096.3L1349.2 1096.8L1346.2 1097.3L1343.3 1097.8L1340.3 1098.3L1337.4 1098.8L1334.4 1099.2L1331.5 1099.7L1328.5 1100.2L1325.6 1100.6L1322.6 1101.1L1319.7 1101.6L1316.7 1102.0L1313.7 1102.5L1310.8 1102.9L1307.8 1103.3L1304.9 1103.8L1301.9 1104.2L1299.0 1104.7L1296.0 1105.1L1293.0 1105.5L1290.1 1105.9L1287.1 1106.4L1284.1 1106.8L1281.2 1107.2L1278.2 1107.6L1275.3 1108.0L1272.3 1108.4L1269.3 1108.9L1266.4 1109.3L1263.4 1109.7L1260.4 1110.1L1257.5 1110.5L1254.5 1110.9L1251.5 1111.3L1248.6 1111.7L1245.6 1112.0L1242.6 1112.4L1239.6 1112.8L1236.7 1113.2L1233.7 1113.6L1230.7 1114.0L1227.7 1114.4L1224.8 1114.8L1221.8 1115.1L1218.8 1115.5L1215.9 1115.9L1212.9 1116.3L1209.9 1116.7L1206.9 1117.1L1203.9 1117.4L1201.0 1117.8L1198.0 1118.2L1195.0 1118.6L1192.0 1118.9L1189.1 1119.3L1186.1 1119.7L1183.1 1120.1L1180.1 1120.5L1177.1 1120.8L1174.1 1121.2L1171.2 1121.6L1168.2 1122.0L1165.2 1122.4L1162.2 1122.7L1159.2 1123.1L1156.2 1123.5L1153.3 1123.9L1150.3 1124.3L1147.3 1124.6L1144.3 1125.0L1141.3 1125.4L1138.3 1125.8L1135.4 1126.2L1132.4 1126.6L1129.4 1127.0L1126.4 1127.4L1123.4 1127.8L1120.4 1128.2L1117.4 1128.6L1114.4 1129.0L1111.5 1129.4L1108.5 1129.8L1105.5 1130.2L1102.5 1130.6L1099.5 1131.0L1096.5 1131.4L1093.5 1131.8L1090.6 1132.2L1087.6 1132.6L1084.6 1133.1L1081.6 1133.5L1078.6 1133.9L1075.6 1134.3L1072.6 1134.8L1069.7 1135.2L1066.7 1135.6L1063.7 1136.1L1060.7 1136.5L1057.7 1137.0L1054.8 1137.4L1051.8 1137.9L1048.8 1138.3L1045.8 1138.8L1042.8 1139.2L1039.9 1139.7L1036.9 1140.2L1033.9 1140.7L1030.9 1141.1L1028.0 1141.6L1025.0 1142.1L1022.0 1142.6L1019.1 1143.1L1016.1 1143.6L1013.1 1144.1L1010.1 1144.6L1007.2 1145.1L1004.2 1145.6L1001.3 1146.1L998.3 1146.7L995.3 1147.2L992.4 1147.7L989.4 1148.3L986.5 1148.8L983.5 1149.4L980.5 1149.9L977.6 1150.5L974.6 1151.0L971.7 1151.6L968.7 1152.2L965.8 1152.8L962.9 1153.3L959.9 1153.9L957.0 1154.5L954.0 1155.1L951.1 1155.7L948.2 1156.4L945.2 1157.0L942.3 1157.6L939.4 1158.2L936.4 1158.9L933.5 1159.5L930.6 1160.2L927.7 1160.8L924.7 1161.5L921.8 1162.2L918.9 1162.8L916.0 1163.5L913.1 1164.2L910.2 1164.9L907.3 1165.6L904.4 1166.3L901.5 1167.1L898.6 1167.8L895.7 1168.5L892.8 1169.3L889.9 1170.0L887.0 1170.8L884.1 1171.5L881.2 1172.3L878.3 1173.1L875.4 1173.8L872.6 1174.6L869.7 1175.4L866.8 1176.3L863.9 1177.1L861.1 1177.9L858.2 1178.7L855.3 1179.6L852.5 1180.4L849.6 1181.3L846.8 1182.1L843.9 1183.0L841.1 1183.9L838.2 1184.8L835.4 1185.7L832.6 1186.6L829.7 1187.5L826.9 1188.5L824.1 1189.4L821.2 1190.3L818.4 1191.3L815.6 1192.3L812.8 1193.2L810.0 1194.2L807.2 1195.2L804.3 1196.2L801.5 1197.2L798.7 1198.3L795.9 1199.3L793.2 1200.3L790.4 1201.4L787.6 1202.5L784.8 1203.5L782.0 1204.6L779.2 1205.7L776.5 1206.8L773.7 1207.9L770.9 1209.1L768.2 1210.2L765.4 1211.4L762.7 1212.5L759.9 1213.7L757.2 1214.9L754.4 1216.1L751.7 1217.3L748.9 1218.5L746.2 1219.7L743.5 1221.0L740.7 1222.2L738.0 1223.5L735.3 1224.8L732.6 1226.1L729.9 1227.4L727.2 1228.7L724.5 1230.0L721.8 1231.4L719.1 1232.7L716.4 1234.1L713.7 1235.5L711.0 1236.8L708.3 1238.2L705.7 1239.7L703.0 1241.1L700.3 1242.5L697.6 1244.0L695.0 1245.4L692.3 1246.8L689.6 1248.3L687.0 1249.7L684.3 1251.2L681.6 1252.6L679.0 1254.1L676.3 1255.5L673.6 1257.0L671.0 1258.4L668.3 1259.8L665.6 1261.2L662.9 1262.6L660.2 1264.0L657.5 1265.4L654.9 1266.7L652.2 1268.1L649.4 1269.4L646.7 1270.7L644.0 1272.0L641.3 1273.3L638.6 1274.5L635.8 1275.7L633.1 1276.9L630.3 1278.0L627.6 1279.2L624.8 1280.3L622.0 1281.3L619.2 1282.4L616.4 1283.4L613.6 1284.3L610.8 1285.3L607.9 1286.2L605.1 1287.0L602.2 1287.8L599.3 1288.6L596.4 1289.3L593.5 1290.0L590.6 1290.6L587.7 1291.2L584.8 1291.8L581.8 1292.3L578.9 1292.7L575.9 1293.1L573.0 1293.5L570.0 1293.8L567.0 1294.1L564.0 1294.3L561.1 1294.5L558.1 1294.6L555.1 1294.7L552.1 1294.8L549.1 1294.8L546.1 1294.7L543.1 1294.6L540.2 1294.5L537.2 1294.3L534.2 1294.0L531.2 1293.7L528.3 1293.4L525.3 1293.0L522.4 1292.5L519.4 1292.0L516.5 1291.5L513.6 1290.9L510.7 1290.3L507.8 1289.6L504.9 1288.9L502.0 1288.2L499.1 1287.4L496.2 1286.6L493.3 1285.7L490.4 1284.8L487.6 1283.9L484.7 1283.0L481.8 1282.1L479.0 1281.1L476.1 1280.1L473.3 1279.1L470.4 1278.1L467.6 1277.0L464.8 1276.0L461.9 1274.9L459.1 1273.9L456.3 1272.8L453.4 1271.7L450.6 1270.6L447.8 1269.5L445.0 1268.5L442.1 1267.4L439.3 1266.3L436.5 1265.2L433.7 1264.1L430.9 1263.1L428.1 1262.0L425.3 1260.9L422.4 1259.9L419.6 1258.8L416.8 1257.8L414.0 1256.7L411.2 1255.7L408.4 1254.7L405.6 1253.6L402.7 1252.6L399.9 1251.6L397.1 1250.6L394.3 1249.6L391.5 1248.6L388.6 1247.6L385.8 1246.7L383.0 1245.7L380.1 1244.8L377.3 1243.8L374.5 1242.9L371.6 1242.0L368.8 1241.1L365.9 1240.2L363.1 1239.4L360.2 1238.5L357.4 1237.7L354.5 1236.8L351.7 1236.0L348.8 1235.2L345.9 1234.5L343.1 1233.7L340.2 1233.0L337.3 1232.3L334.4 1231.5L331.5 1230.9L328.6 1230.2L325.7 1229.6L322.8 1228.9L319.9 1228.3L316.9 1227.7L314.0 1227.2L311.1 1226.6L308.1 1226.1L305.2 1225.6L302.2 1225.2L299.2 1224.7L296.3 1224.3L293.3 1223.9L290.3 1223.5L287.3 1223.2L284.3 1222.9L281.3 1222.6L278.3 1222.3L275.2 1222.1L272.2 1221.8L269.2 1221.7L266.1 1221.5L263.0 1221.4L260.0 1221.3L256.9 1221.2L253.8 1221.2L250.7 1221.2" fill="none" stroke="#f14040" stroke-width="7.0" stroke-linejoin="round" stroke-linecap="butt" shape-rendering="crispEdges"/>
<path d="M250.7 764.8L253.7 764.5L256.7 764.1L259.8 763.7L262.7 763.2L265.7 762.7L268.7 762.2L271.7 761.6L274.6 761.0L277.6 760.3L280.5 759.6L283.4 758.9L286.3 758.1L289.2 757.3L292.1 756.4L294.9 755.5L297.8 754.6L300.6 753.6L303.5 752.6L306.3 751.5L309.1 750.5L311.8 749.3L314.6 748.2L317.4 747.0L320.1 745.8L322.8 744.5L325.5 743.2L328.2 741.9L330.9 740.5L333.5 739.1L336.1 737.7L338.8 736.2L341.4 734.7L343.9 733.2L346.5 731.7L349.0 730.1L351.6 728.5L354.1 726.8L356.6 725.2L359.0 723.5L361.5 721.7L363.9 720.0L366.3 718.2L368.7 716.4L371.1 714.6L373.4 712.7L375.7 710.8L378.1 708.9L380.3 706.9L382.6 705.0L384.8 703.0L387.0 701.0L389.2 698.9L391.4 696.9L393.5 694.8L395.7 692.7L397.8 690.6L399.8 688.4L401.9 686.3L403.9 684.1L405.9 681.9L407.9 679.6L409.8 677.4L411.8 675.1L413.7 672.8L415.6 670.5L417.5 668.2L419.3 665.9L421.1 663.5L423.0 661.1L424.7 658.7L426.5 656.3L428.3 653.9L430.0 651.5L431.7 649.0L433.5 646.6L435.1 644.1L436.8 641.6L438.5 639.1L440.1 636.6L441.8 634.1L443.4 631.6L445.0 629.1L446.6 626.5L448.2 624.0L449.8 621.4L451.3 618.8L452.9 616.2L454.4 613.6L456.0 611.1L457.5 608.5L459.0 605.8L460.5 603.2L462.0 600.6L463.5 598.0L465.0 595.4L466.5 592.7L468.0 590.1L469.5 587.5L470.9 584.8L472.4 582.2L473.9 579.6L475.3 576.9L476.8 574.3L478.3 571.6L479.7 569.0L481.2 566.4L482.6 563.7L484.1 561.1L485.6 558.4L487.0 555.8L488.5 553.2L489.9 550.6L491.4 547.9L492.9 545.3L494.3 542.7L495.8 540.1L497.3 537.5L498.7 534.9L500.2 532.2L501.7 529.6L503.1 527.0L504.6 524.4L506.1 521.8L507.6 519.2L509.1 516.6L510.5 514.0L512.0 511.4L513.5 508.9L515.0 506.3L516.5 503.7L518.0 501.1L519.5 498.5L521.0 495.9L522.5 493.3L524.0 490.8L525.5 488.2L527.0 485.6L528.5 483.0L530.0 480.4L531.5 477.9L533.0 475.3L534.5 472.7L536.0 470.1L537.6 467.6L539.1 465.0L540.6 462.4L542.1 459.9L543.7 457.3L545.2 454.7L546.8 452.2L548.3 449.6L549.8 447.1L551.4 444.5L552.9 441.9L554.5 439.4L556.1 436.8L557.6 434.3L559.2 431.7L560.8 429.2L562.4 426.7L564.0 424.1L565.6 421.6L567.2 419.1L568.9 416.6L570.5 414.1L572.2 411.6L573.9 409.1L575.6 406.7L577.3 404.2L579.0 401.8L580.7 399.3L582.5 396.9L584.3 394.5L586.1 392.1L587.9 389.7L589.7 387.4L591.6 385.0L593.4 382.7L595.3 380.4L597.3 378.1L599.2 375.8L601.2 373.6L603.2 371.3L605.2 369.1L607.2 366.9L609.3 364.8L611.4 362.6L613.6 360.5L615.7 358.4L617.9 356.3L620.1 354.2L622.4 352.2L624.7 350.2L627.0 348.2L629.3 346.3L631.7 344.4L634.1 342.5L636.5 340.7L639.0 338.9L641.5 337.1L644.0 335.4L646.5 333.8L649.1 332.2L651.7 330.6L654.3 329.1L656.9 327.6L659.6 326.2L662.3 324.9L665.0 323.6L667.7 322.4L670.5 321.2L673.3 320.1L676.0 319.1L678.9 318.2L681.7 317.3L684.5 316.5L687.4 315.8L690.3 315.1L693.2 314.6L696.1 314.1L699.1 313.7L702.0 313.4L705.0 313.1L708.0 312.9L711.0 312.8L714.0 312.8L717.0 312.8L720.0 312.9L723.0 313.0L726.0 313.2L729.1 313.4L732.1 313.6L735.1 313.9L738.1 314.2L741.1 314.6L744.1 315.0L747.1 315.4L750.1 315.8L753.1 316.3L756.0 316.7L759.0 317.2L762.0 317.7L764.9 318.2L767.9 318.8L770.8 319.3L773.7 319.9L776.7 320.4L779.6 321.0L782.5 321.6L785.5 322.2L788.4 322.8L791.3 323.3L794.2 323.9L797.2 324.5L800.1 325.1L803.0 325.7L805.9 326.3L808.9 326.9L811.8 327.5L814.7 328.0L817.7 328.6L820.6 329.1L823.6 329.7L826.5 330.2L829.5 330.7L832.4 331.2L835.4 331.7L838.4 332.2L841.4 332.6L844.4 333.0L847.4 333.4L850.4 333.8L853.4 334.2L856.4 334.5L859.4 334.8L862.4 335.1L865.4 335.4L868.4 335.6L871.4 335.8L874.4 336.0L877.5 336.1L880.5 336.2L883.5 336.3L886.5 336.4L889.5 336.4L892.5 336.4L895.5 336.3L898.5 336.2L901.5 336.1L904.5 336.0L907.5 335.8L910.5 335.5L913.5 335.3L916.4 335.0L919.4 334.6L922.3 334.2L925.3 333.8L928.2 333.3L931.2 332.8L934.1 332.2L937.0 331.6L939.9 330.9L942.8 330.2L945.7 329.4L948.5 328.6L951.4 327.7L954.2 326.8L957.0 325.8L959.9 324.8L962.7 323.7L965.4 322.6L968.2 321.5L971.0 320.3L973.7 319.0L976.5 317.8L979.2 316.5L981.9 315.2L984.6 313.8L987.3 312.5L990.0 311.1L992.7 309.7L995.4 308.3L998.1 306.9L1000.7 305.4L1003.4 304.0L1006.0 302.6L1008.7 301.1L1011.3 299.7L1013.9 298.2L1016.5 296.8L1019.1 295.3L1021.7 293.7L1024.2 292.2L1026.7 290.6L1029.2 289.0L1031.7 287.4L1034.2 285.7L1036.6 284.0L1039.0 282.3L1041.4 280.5L1043.7 278.7L1046.1 276.8L1048.4 274.9L1050.6 272.9L1052.8 270.9L1055.0 268.8L1057.2 266.7L1059.3 264.6L1061.4 262.4L1063.5 260.2L1065.6 258.0L1067.7 255.8L1069.7 253.5L1071.8 251.3L1073.9 249.0L1075.9 246.8L1078.0 244.6L1080.1 242.4L1082.2 240.2L1084.3 238.1L1086.5 236.0L1088.6 233.9L1090.8 231.9L1093.1 229.9L1095.3 227.9L1097.6 226.1L1100.0 224.3L1102.3 222.6L1104.8 220.9L1107.2 219.3L1109.8 217.8L1112.4 216.5L1115.0 215.2L1117.8 214.0L1120.5 212.8L1123.3 211.8L1126.1 210.7L1128.9 209.7L1131.7 208.6L1134.5 207.5L1137.3 206.4L1140.0 205.1L1142.7 203.9L1145.3 202.6L1148.0 201.2L1150.6 199.7L1153.2 198.1L1155.8 196.5L1158.3 194.9L1160.9 193.2L1163.5 191.5L1166.1 189.8L1168.7 188.1L1171.3 186.5L1173.9 184.9L1176.6 183.4L1179.3 181.9L1182.0 180.6L1184.8 179.4L1187.6 178.3L1190.4 177.4L1193.3 176.6L1196.2 176.0L1199.1 175.7L1202.0 175.5L1204.9 175.7L1207.7 176.1L1210.4 176.8L1213.1 177.7L1215.7 178.9L1218.2 180.2L1220.7 181.8L1223.1 183.6L1225.3 185.5L1227.5 187.7L1229.6 189.9L1231.6 192.3L1233.4 194.8L1235.2 197.4L1236.8 200.1L1238.3 202.8L1239.6 205.6L1240.9 208.5L1242.0 211.4L1243.0 214.3L1244.0 217.3L1244.9 220.3L1245.8 223.2L1246.6 226.2L1247.4 229.2L1248.2 232.1L1248.9 235.1L1249.7 238.0L1250.4 240.9L1251.1 243.9L1251.8 246.8L1252.5 249.7L1253.2 252.6L1253.8 255.5L1254.5 258.4L1255.2 261.3L1255.8 264.2L1256.5 267.1L1257.1 270.0L1257.8 272.8L1258.4 275.7L1259.1 278.6L1259.8 281.5L1260.5 284.4L1261.2 287.3L1261.9 290.1L1262.6 293.0L1263.3 295.9L1264.1 298.8L1264.8 301.7L1265.6 304.6L1266.4 307.5L1267.1 310.4L1267.9 313.3L1268.7 316.2L1269.5 319.1L1270.3 322.0L1271.0 324.9L1271.8 327.8L1272.6 330.7L1273.3 333.7L1274.1 336.6L1274.8 339.5L1275.5 342.5L1276.2 345.4L1276.9 348.3L1277.6 351.3L1278.3 354.2L1279.1 357.1L1279.8 360.0L1280.6 362.9L1281.4 365.8L1282.2 368.7L1283.1 371.6L1284.0 374.4L1285.0 377.3L1286.0 380.1L1287.1 382.9L1288.2 385.6L1289.4 388.4L1290.7 391.1L1292.1 393.7L1293.6 396.4L1295.1 399.0L1296.7 401.5L1298.4 404.0L1300.2 406.5L1302.0 408.9L1303.9 411.2L1305.9 413.5L1307.9 415.8L1310.0 417.9L1312.1 420.0L1314.4 422.0L1316.6 424.0L1319.0 425.9L1321.4 427.7L1323.8 429.4L1326.3 431.0L1328.9 432.5L1331.5 433.9L1334.1 435.3L1336.8 436.5L1339.5 437.7L1342.3 438.8L1345.1 439.8L1347.9 440.7L1350.8 441.6L1353.7 442.4L1356.6 443.1L1359.6 443.8L1362.5 444.5L1365.5 445.1L1368.5 445.6L1371.5 446.1L1374.5 446.6L1377.5 447.0L1380.5 447.4L1383.5 447.8L1386.5 448.1L1389.5 448.4L1392.5 448.7L1395.5 449.0L1398.5 449.2L1401.5 449.5L1404.5 449.6L1407.5 449.8L1410.5 450.0L1413.5 450.1L1416.5 450.2L1419.5 450.3L1422.5 450.4L1425.5 450.4L1428.5 450.4L1431.5 450.5L1434.5 450.4L1437.5 450.4L1440.5 450.4L1443.5 450.3L1446.5 450.2L1449.4 450.1L1452.4 450.0L1455.4 449.9L1458.4 449.7L1461.4 449.6L1464.4 449.4L1467.4 449.2L1470.4 449.0L1473.4 448.8L1476.4 448.6L1479.4 448.3L1482.3 448.1L1485.3 447.8L1488.3 447.6L1491.3 447.3L1494.3 447.0L1497.3 446.7L1500.3 446.4L1503.3 446.1L1506.2 445.8L1509.2 445.4L1512.2 445.1L1515.2 444.7L1518.2 444.4L1521.2 444.0L1524.1 443.7L1527.1 443.3L1530.1 442.9L1533.1 442.6L1536.1 442.2L1539.0 441.8L1542.0 441.4L1545.0 441.0L1548.0 440.6L1550.9 440.2L1553.9 439.8L1556.9 439.3L1559.9 438.9L1562.8 438.4L1565.8 438.0L1568.8 437.5L1571.7 437.1L1574.7 436.6L1577.7 436.1L1580.6 435.6L1583.6 435.1L1586.5 434.6L1589.5 434.1L1592.4 433.6L1595.4 433.0L1598.3 432.5L1601.3 431.9L1604.2 431.4L1607.2 430.8L1610.1 430.2L1613.1 429.6L1616.0 429.0L1618.9 428.4L1621.9 427.8L1624.8 427.1L1627.7 426.5L1630.6 425.8L1633.6 425.2L1636.5 424.5L1639.4 423.8L1642.3 423.1L1645.2 422.4L1648.1 421.6L1651.0 420.9L1653.9 420.2L1656.8 419.4L1659.7 418.6L1662.6 417.8L1665.5 417.0L1668.4 416.2L1671.3 415.4L1674.1 414.5L1677.0 413.7L1679.9 412.8L1682.7 411.9L1685.6 411.0L1688.5 410.1L1691.3 409.2L1694.2 408.2L1697.0 407.3L1699.8 406.3L1702.7 405.3L1705.5 404.3L1708.3 403.3L1711.2 402.3L1714.0 401.3L1716.8 400.2L1719.6 399.2L1722.4 398.1L1725.2 397.0L1728.0 396.0L1730.8 394.9L1733.6 393.8L1736.4 392.6L1739.2 391.5L1742.0 390.4L1744.8 389.2L1747.6 388.1L1750.4 386.9L1753.1 385.8L1755.9 384.6L1758.7 383.4L1761.4 382.2L1764.2 381.0L1767.0 379.8L1769.7 378.6L1772.5 377.4L1775.2 376.2L1778.0 375.0L1780.7 373.7L1783.5 372.5L1786.2 371.3L1788.9 370.0L1791.7 368.8L1794.4 367.6L1797.1 366.3L1799.9 365.1L1802.6 363.8L1805.3 362.6L1808.0 361.3L1810.7 360.1L1813.5 358.8L1816.2 357.6L1818.9 356.3L1821.6 355.1L1824.3 353.8L1824.5 356.8L1824.7 359.8L1824.9 362.8L1825.0 365.8L1825.2 368.8L1825.4 371.8L1825.5 374.9L1825.6 377.9L1825.8 380.9L1825.9 383.9L1826.0 386.9L1826.1 389.9L1826.2 392.9L1826.3 395.9L1826.4 398.9L1826.5 401.9L1826.6 404.9L1826.7 407.9L1826.7 410.9L1826.8 413.9L1826.9 416.9L1826.9 419.9L1826.9 422.9L1827.0 425.9L1827.0 428.9L1827.0 431.9L1827.0 434.9L1827.0 437.8L1827.0 440.8L1827.0 443.8L1827.0 446.8L1827.0 449.8L1827.0 452.8L1827.0 455.8L1826.9 458.8L1826.9 461.8L1826.8 464.8L1826.8 467.8L1826.7 470.8L1826.6 473.8L1826.6 476.8L1826.5 479.8L1826.4 482.8L1826.3 485.7L1826.2 488.7L1826.1 491.7L1826.0 494.7L1825.9 497.7L1825.8 500.7L1825.7 503.7L1825.6 506.7L1825.4 509.7L1825.3 512.7L1825.2 515.7L1825.0 518.7L1824.9 521.7L1824.7 524.7L1824.6 527.7L1824.4 530.6L1824.2 533.6L1824.1 536.6L1823.9 539.6L1823.7 542.6L1823.5 545.6L1823.3 548.6L1823.1 551.6L1822.9 554.6L1822.7 557.6L1822.5 560.6L1822.3 563.6L1822.1 566.6L1821.8 569.6L1821.6 572.6L1821.4 575.6L1821.2 578.6L1820.9 581.6L1820.7 584.6L1820.4 587.6L1820.2 590.6L1819.9 593.6L1819.7 596.6L1819.4 599.6L1819.1 602.6L1818.9 605.6L1818.6 608.6L1818.3 611.6L1818.0 614.6L1817.7 617.6L1817.4 620.6L1817.1 623.6L1816.8 626.6L1816.4 629.6L1816.1 632.6L1815.8 635.6L1815.4 638.6L1815.0 641.6L1814.7 644.6L1814.3 647.6L1813.9 650.5L1813.5 653.5L1813.1 656.5L1812.6 659.5L1812.2 662.5L1811.7 665.4L1811.3 668.4L1810.8 671.4L1810.3 674.3L1809.8 677.3L1809.3 680.2L1808.7 683.2L1808.2 686.1L1807.6 689.1L1807.0 692.0L1806.4 695.0L1805.8 697.9L1805.2 700.8L1804.5 703.8L1803.9 706.7L1803.2 709.6L1802.5 712.5L1801.8 715.4L1801.1 718.3L1800.3 721.2L1799.5 724.1L1798.7 726.9L1797.9 729.8L1797.1 732.7L1796.2 735.6L1795.4 738.4L1794.5 741.3L1793.5 744.1L1792.6 746.9L1791.6 749.8L1790.7 752.6L1789.6 755.4L1788.6 758.2L1787.6 761.0L1786.5 763.8L1785.4 766.6L1784.2 769.4L1783.1 772.1L1781.9 774.9L1780.7 777.6L1779.5 780.4L1778.2 783.1L1777.0 785.9L1775.7 788.6L1774.3 791.3L1773.0 794.0L1771.6 796.7L1770.2 799.3L1768.8 802.0L1767.4 804.7L1765.9 807.3L1764.4 809.9L1762.9 812.6L1761.4 815.2L1759.9 817.8L1758.3 820.4L1756.7 822.9L1755.1 825.5L1753.5 828.1L1751.8 830.6L1750.2 833.1L1748.5 835.6L1746.8 838.1L1745.1 840.6L1743.3 843.1L1741.5 845.5L1739.8 848.0L1738.0 850.4L1736.1 852.8L1734.3 855.2L1732.4 857.6L1730.6 860.0L1728.7 862.3L1726.7 864.6L1724.8 866.9L1722.8 869.2L1720.8 871.4L1718.8 873.7L1716.8 875.9L1714.7 878.0L1712.6 880.2L1710.5 882.3L1708.4 884.4L1706.2 886.4L1704.0 888.5L1701.8 890.4L1699.6 892.4L1697.3 894.3L1695.0 896.2L1692.6 898.0L1690.3 899.8L1687.9 901.6L1685.5 903.4L1683.0 905.1L1680.6 906.8L1678.1 908.4L1675.6 910.1L1673.1 911.7L1670.5 913.3L1668.0 914.8L1665.4 916.4L1662.8 917.9L1660.2 919.4L1657.6 920.9L1655.0 922.3L1652.3 923.8L1649.7 925.2L1647.0 926.6L1644.4 928.0L1641.7 929.4L1639.0 930.8L1636.4 932.2L1633.7 933.6L1631.0 934.9L1628.3 936.3L1625.6 937.6L1622.9 938.9L1620.2 940.2L1617.5 941.5L1614.8 942.8L1612.1 944.1L1609.3 945.4L1606.6 946.6L1603.9 947.9L1601.2 949.1L1598.4 950.4L1595.7 951.6L1592.9 952.8L1590.2 954.0L1587.4 955.2L1584.7 956.4L1581.9 957.6L1579.1 958.7L1576.4 959.9L1573.6 961.0L1570.8 962.2L1568.1 963.3L1565.3 964.4L1562.5 965.5L1559.7 966.6L1556.9 967.7L1554.1 968.8L1551.3 969.8L1548.5 970.9L1545.7 971.9L1542.9 973.0L1540.1 974.0L1537.2 975.0L1534.4 976.0L1531.6 977.0L1528.8 978.0L1525.9 979.0L1523.1 979.9L1520.3 980.9L1517.4 981.8L1514.6 982.8L1511.7 983.7L1508.9 984.6L1506.0 985.5L1503.2 986.4L1500.3 987.3L1497.5 988.2L1494.6 989.1L1491.8 989.9L1488.9 990.8L1486.0 991.7L1483.2 992.5L1480.3 993.3L1477.4 994.2L1474.5 995.0L1471.7 995.8L1468.8 996.6L1465.9 997.4L1463.0 998.2L1460.1 999.0L1457.2 999.8L1454.3 1000.6L1451.4 1001.3L1448.5 1002.1L1445.7 1002.9L1442.8 1003.6L1439.9 1004.4L1437.0 1005.1L1434.0 1005.9L1431.1 1006.6L1428.2 1007.3L1425.3 1008.1L1422.4 1008.8L1419.5 1009.5L1416.6 1010.2L1413.7 1010.9L1410.8 1011.6L1407.9 1012.3L1404.9 1013.1L1402.0 1013.8L1399.1 1014.5L1396.2 1015.1L1393.3 1015.8L1390.4 1016.5L1387.4 1017.2L1384.5 1017.9L1381.6 1018.6L1378.7 1019.3L1375.7 1020.0L1372.8 1020.6L1369.9 1021.3L1367.0 1022.0L1364.0 1022.7L1361.1 1023.4L1358.2 1024.0L1355.3 1024.7L1352.3 1025.4L1349.4 1026.1L1346.5 1026.8L1343.5 1027.4L1340.6 1028.1L1337.7 1028.8L1334.8 1029.5L1331.8 1030.2L1328.9 1030.8L1326.0 1031.5L1323.0 1032.2L1320.1 1032.9L1317.2 1033.6L1314.3 1034.3L1311.3 1035.0L1308.4 1035.7L1305.5 1036.4L1302.6 1037.1L1299.6 1037.8L1296.7 1038.5L1293.8 1039.2L1290.9 1039.9L1287.9 1040.6L1285.0 1041.3L1282.1 1042.1L1279.2 1042.8L1276.3 1043.5L1273.3 1044.2L1270.4 1044.9L1267.5 1045.7L1264.6 1046.4L1261.7 1047.1L1258.7 1047.8L1255.8 1048.6L1252.9 1049.3L1250.0 1050.0L1247.1 1050.7L1244.1 1051.5L1241.2 1052.2L1238.3 1052.9L1235.4 1053.6L1232.5 1054.4L1229.5 1055.1L1226.6 1055.8L1223.7 1056.6L1220.8 1057.3L1217.9 1058.0L1214.9 1058.7L1212.0 1059.5L1209.1 1060.2L1206.2 1060.9L1203.3 1061.6L1200.4 1062.4L1197.4 1063.1L1194.5 1063.8L1191.6 1064.5L1188.7 1065.3L1185.8 1066.0L1182.8 1066.7L1179.9 1067.4L1177.0 1068.1L1174.1 1068.8L1171.2 1069.5L1168.2 1070.3L1165.3 1071.0L1162.4 1071.7L1159.5 1072.4L1156.6 1073.1L1153.6 1073.8L1150.7 1074.5L1147.8 1075.2L1144.9 1075.9L1141.9 1076.6L1139.0 1077.2L1136.1 1077.9L1133.2 1078.6L1130.3 1079.3L1127.3 1080.0L1124.4 1080.6L1121.5 1081.3L1118.6 1082.0L1115.6 1082.7L1112.7 1083.3L1109.8 1084.0L1106.8 1084.6L1103.9 1085.3L1101.0 1085.9L1098.1 1086.6L1095.1 1087.2L1092.2 1087.8L1089.3 1088.5L1086.3 1089.1L1083.4 1089.7L1080.5 1090.4L1077.6 1091.0L1074.6 1091.6L1071.7 1092.2L1068.8 1092.8L1065.8 1093.4L1062.9 1094.0L1060.0 1094.7L1057.0 1095.3L1054.1 1095.9L1051.2 1096.5L1048.2 1097.1L1045.3 1097.7L1042.4 1098.3L1039.4 1098.8L1036.5 1099.4L1033.6 1100.0L1030.6 1100.6L1027.7 1101.2L1024.8 1101.8L1021.8 1102.4L1018.9 1103.0L1015.9 1103.6L1013.0 1104.2L1010.1 1104.8L1007.1 1105.3L1004.2 1105.9L1001.3 1106.5L998.3 1107.1L995.4 1107.7L992.5 1108.3L989.5 1108.9L986.6 1109.5L983.7 1110.1L980.7 1110.7L977.8 1111.3L974.9 1111.9L971.9 1112.5L969.0 1113.1L966.1 1113.7L963.2 1114.3L960.2 1114.9L957.3 1115.5L954.4 1116.2L951.4 1116.8L948.5 1117.4L945.6 1118.0L942.6 1118.7L939.7 1119.3L936.8 1119.9L933.9 1120.6L930.9 1121.2L928.0 1121.8L925.1 1122.5L922.2 1123.1L919.2 1123.8L916.3 1124.5L913.4 1125.1L910.5 1125.8L907.6 1126.5L904.6 1127.2L901.7 1127.8L898.8 1128.5L895.9 1129.2L893.0 1129.9L890.0 1130.6L887.1 1131.3L884.2 1132.1L881.3 1132.8L878.4 1133.5L875.5 1134.3L872.6 1135.0L869.7 1135.7L866.8 1136.5L863.8 1137.3L860.9 1138.0L858.0 1138.8L855.1 1139.6L852.2 1140.4L849.3 1141.2L846.4 1142.0L843.5 1142.8L840.6 1143.6L837.7 1144.4L834.8 1145.3L831.9 1146.1L829.0 1146.9L826.1 1147.8L823.2 1148.7L820.4 1149.5L817.5 1150.4L814.6 1151.3L811.7 1152.2L808.8 1153.1L805.9 1154.1L803.0 1155.0L800.2 1155.9L797.3 1156.9L794.4 1157.8L791.6 1158.8L788.7 1159.8L785.8 1160.8L783.0 1161.8L780.1 1162.8L777.3 1163.8L774.4 1164.9L771.6 1165.9L768.8 1167.0L766.0 1168.1L763.1 1169.2L760.3 1170.3L757.5 1171.4L754.7 1172.5L751.9 1173.6L749.2 1174.8L746.4 1176.0L743.6 1177.2L740.9 1178.4L738.1 1179.6L735.4 1180.8L732.6 1182.0L729.9 1183.3L727.2 1184.6L724.5 1185.9L721.8 1187.2L719.1 1188.5L716.4 1189.8L713.8 1191.2L711.1 1192.6L708.5 1194.0L705.8 1195.4L703.2 1196.8L700.6 1198.2L698.0 1199.7L695.5 1201.2L692.9 1202.7L690.3 1204.2L687.8 1205.7L685.3 1207.3L682.7 1208.9L680.2 1210.5L677.7 1212.1L675.3 1213.7L672.8 1215.3L670.3 1217.0L667.9 1218.7L665.4 1220.3L663.0 1222.0L660.6 1223.8L658.2 1225.5L655.8 1227.2L653.4 1229.0L651.0 1230.7L648.6 1232.5L646.2 1234.3L643.8 1236.1L641.4 1237.9L639.1 1239.7L636.7 1241.5L634.3 1243.4L632.0 1245.2L629.6 1247.0L627.2 1248.9L624.9 1250.7L622.5 1252.6L620.2 1254.5L617.8 1256.3L615.4 1258.2L613.1 1260.1L610.7 1262.0L608.3 1263.9L606.0 1265.8L603.6 1267.7L601.2 1269.5L598.8 1271.4L596.5 1273.3L594.1 1275.2L591.7 1277.1L589.3 1279.0L586.9 1280.9L584.4 1282.8L582.0 1284.7L579.6 1286.5L577.1 1288.4L574.7 1290.2L572.2 1292.1L569.8 1293.9L567.3 1295.7L564.8 1297.5L562.3 1299.2L559.8 1301.0L557.3 1302.7L554.7 1304.4L552.2 1306.1L549.6 1307.7L547.1 1309.3L544.5 1310.9L541.9 1312.4L539.3 1313.9L536.7 1315.4L534.0 1316.8L531.4 1318.2L528.7 1319.5L526.0 1320.8L523.3 1322.0L520.6 1323.2L517.9 1324.4L515.2 1325.5L512.4 1326.5L509.6 1327.5L506.8 1328.4L504.0 1329.3L501.2 1330.0L498.3 1330.8L495.4 1331.5L492.5 1332.1L489.6 1332.6L486.7 1333.1L483.8 1333.5L480.8 1333.9L477.9 1334.1L474.9 1334.4L472.0 1334.6L469.0 1334.7L466.0 1334.7L463.0 1334.7L460.0 1334.7L457.0 1334.6L454.0 1334.4L451.0 1334.2L448.1 1333.9L445.1 1333.5L442.1 1333.2L439.1 1332.7L436.1 1332.2L433.2 1331.7L430.2 1331.1L427.3 1330.4L424.4 1329.7L421.5 1329.0L418.6 1328.2L415.7 1327.4L412.8 1326.5L410.0 1325.6L407.1 1324.6L404.3 1323.6L401.5 1322.5L398.7 1321.5L395.9 1320.4L393.1 1319.2L390.3 1318.1L387.5 1316.9L384.7 1315.7L382.0 1314.4L379.2 1313.2L376.5 1311.9L373.7 1310.6L371.0 1309.3L368.3 1307.9L365.5 1306.6L362.8 1305.2L360.1 1303.9L357.4 1302.5L354.7 1301.1L352.0 1299.8L349.3 1298.4L346.6 1297.0L343.9 1295.6L341.2 1294.3L338.5 1292.9L335.8 1291.5L333.1 1290.2L330.4 1288.9L327.7 1287.5L325.0 1286.2L322.3 1284.9L319.6 1283.7L316.8 1282.4L314.1 1281.1L311.4 1279.9L308.7 1278.7L306.0 1277.5L303.3 1276.3L300.5 1275.1L297.8 1273.9L295.1 1272.8L292.3 1271.6L289.6 1270.4L286.8 1269.3L284.1 1268.2L281.3 1267.0L278.6 1265.9L275.8 1264.8L273.0 1263.7L270.3 1262.6L267.5 1261.4L264.7 1260.3L261.9 1259.2L259.1 1258.1L256.3 1257.0L253.5 1255.9L250.7 1254.8" fill="none" stroke="#1a6fdf" stroke-width="7.0" stroke-linejoin="round" stroke-linecap="butt" shape-rendering="crispEdges"/>
</g>
<g fill="#000" stroke="none">
<rect x="247.00" y="62.00" width="6.00" height="1392.00"/>
<rect x="1967.00" y="62.00" width="6.00" height="1392.00"/>
<rect x="247.00" y="62.00" width="1726.00" height="5.00"/>
<rect x="247.00" y="1449.00" width="1726.00" height="5.00"/>
<rect x="223.00" y="62.00" width="27.00" height="5.00"/>
<rect x="236.00" y="135.00" width="14.00" height="5.00"/>
<rect x="223.00" y="208.00" width="27.00" height="5.00"/>
<rect x="236.00" y="281.00" width="14.00" height="5.00"/>
<rect x="223.00" y="354.00" width="27.00" height="5.00"/>
<rect x="236.00" y="427.00" width="14.00" height="5.00"/>
<rect x="223.00" y="500.00" width="27.00" height="5.00"/>
<rect x="236.00" y="573.00" width="14.00" height="5.00"/>
<rect x="223.00" y="646.00" width="27.00" height="5.00"/>
<rect x="236.00" y="719.00" width="14.00" height="5.00"/>
<rect x="223.00" y="792.00" width="27.00" height="5.00"/>
<rect x="236.00" y="865.00" width="14.00" height="5.00"/>
<rect x="223.00" y="938.00" width="27.00" height="5.00"/>
<rect x="236.00" y="1011.00" width="14.00" height="5.00"/>
<rect x="223.00" y="1084.00" width="27.00" height="5.00"/>
<rect x="236.00" y="1157.00" width="14.00" height="5.00"/>
<rect x="223.00" y="1230.00" width="27.00" height="5.00"/>
<rect x="236.00" y="1303.00" width="14.00" height="5.00"/>
<rect x="223.00" y="1376.00" width="27.00" height="5.00"/>
<rect x="236.00" y="1449.00" width="14.00" height="5.00"/>
<rect x="247.00" y="1451.50" width="6.00" height="13.50"/>
<rect x="390.83" y="1451.50" width="5.00" height="26.50"/>
<rect x="534.17" y="1451.50" width="5.00" height="13.50"/>
<rect x="677.50" y="1451.50" width="5.00" height="26.50"/>
<rect x="820.83" y="1451.50" width="5.00" height="13.50"/>
<rect x="964.17" y="1451.50" width="5.00" height="26.50"/>
<rect x="1107.50" y="1451.50" width="5.00" height="13.50"/>
<rect x="1250.83" y="1451.50" width="5.00" height="26.50"/>
<rect x="1394.17" y="1451.50" width="5.00" height="13.50"/>
<rect x="1537.50" y="1451.50" width="5.00" height="26.50"/>
<rect x="1680.83" y="1451.50" width="5.00" height="13.50"/>
<rect x="1824.17" y="1451.50" width="5.00" height="26.50"/>
<rect x="1967.00" y="1451.50" width="6.00" height="13.50"/>
</g>
<g font-family="'Liberation Sans', sans-serif" fill="#000">
<text transform="translate(203.80 81.50) scale(1.0 1.03)" font-size="58.6" text-anchor="end">60</text>
<text transform="translate(203.80 227.50) scale(1.0 1.03)" font-size="58.6" text-anchor="end">50</text>
<text transform="translate(203.80 373.50) scale(1.0 1.03)" font-size="58.6" text-anchor="end">40</text>
<text transform="translate(203.80 519.50) scale(1.0 1.03)" font-size="58.6" text-anchor="end">30</text>
<text transform="translate(203.80 665.50) scale(1.0 1.03)" font-size="58.6" text-anchor="end">20</text>
<text transform="translate(203.80 811.50) scale(1.0 1.03)" font-size="58.6" text-anchor="end">10</text>
<text transform="translate(203.80 957.50) scale(1.0 1.03)" font-size="58.6" text-anchor="end">0</text>
<text transform="translate(203.80 1103.50) scale(1.0 1.03)" font-size="58.6" text-anchor="end">-10</text>
<text transform="translate(203.80 1249.50) scale(1.0 1.03)" font-size="58.6" text-anchor="end">-20</text>
<text transform="translate(203.80 1395.50) scale(1.0 1.03)" font-size="58.6" text-anchor="end">-30</text>
<text transform="translate(393.53 1543.40) scale(1.0 1.03)" font-size="58.6" text-anchor="middle">0.3</text>
<text transform="translate(680.20 1543.40) scale(1.0 1.03)" font-size="58.6" text-anchor="middle">0.4</text>
<text transform="translate(966.87 1543.40) scale(1.0 1.03)" font-size="58.6" text-anchor="middle">0.5</text>
<text transform="translate(1253.53 1543.40) scale(1.0 1.03)" font-size="58.6" text-anchor="middle">0.6</text>
<text transform="translate(1540.20 1543.40) scale(1.0 1.03)" font-size="58.6" text-anchor="middle">0.7</text>
<text transform="translate(1826.87 1543.40) scale(1.0 1.03)" font-size="58.6" text-anchor="middle">0.8</text>
<text transform="translate(1111.00 1654.10) scale(1.0 1.03)" font-size="72.6" text-anchor="middle">Potential (V)</text>
<text transform="translate(88.00 758.00) rotate(-90) scale(1.0 1.03)" font-size="72.6" text-anchor="middle">Current (µA)</text>
</g>
<g font-family="'Liberation Sans', sans-serif" fill="#000">
<line x1="1509.1" y1="98.6" x2="1596.0" y2="98.6" stroke="#515151" stroke-width="7.2" stroke-linecap="round"/>
<text transform="translate(1607.00 111.90) scale(1.0 1.03)" font-size="39.15" text-anchor="start">GCE</text>
<line x1="1509.1" y1="147.2" x2="1596.0" y2="147.2" stroke="#f14040" stroke-width="7.2" stroke-linecap="round"/>
<text transform="translate(1607.00 159.90) scale(1.0 1.03)" font-size="39.15" text-anchor="start">NSP−PC@GCE</text>
<line x1="1509.1" y1="195.5" x2="1596.0" y2="195.5" stroke="#1a6fdf" stroke-width="7.2" stroke-linecap="round"/>
<text transform="translate(1607.00 207.90) scale(1.0 1.03)" font-size="39.15" text-anchor="start">Ag/NSP−PC@GCE</text>
</g>
</svg>
</body></html>
